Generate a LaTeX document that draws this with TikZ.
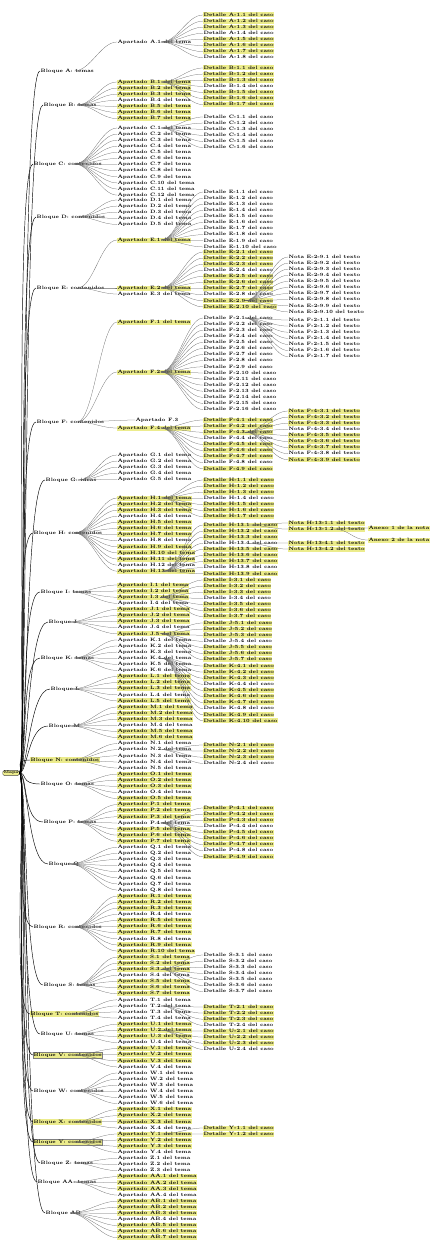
\documentclass[tikz,border=0pt]{standalone}
\usepackage{fontspec}
\usepackage{xcolor}
\definecolor{resalte}{RGB}{236,236,140}

\begin{document}
\begin{tikzpicture}[x=1pt, y=-1pt,
  raiz/.style={draw=black!70, fill=resalte, rounded corners=1.5pt, font=\fontsize{4}{4}\selectfont\bfseries, inner sep=0.8pt},
  bloque/.style={anchor=west, font=\fontsize{4.8}{5}\selectfont\bfseries, inner sep=0.5pt},
  bloquemarca/.style={bloque, fill=resalte},
  bloquecaja/.style={bloque, fill=resalte, draw=black!50, line width=0.2pt},
  nivel0/.style={anchor=west, font=\fontsize{4.8}{5}\selectfont\bfseries, inner sep=0.4pt, text height=3.3pt, text depth=0.9pt},
  nivel1/.style={nivel0, fill=resalte},
  conector/.style={draw=black!60, line width=0.25pt, to path={.. controls +(16,0) and +(-16,0) .. (\tikztotarget)}},
  tronco/.style={draw=black, line width=0.45pt, to path={.. controls +(8,0) and +(-20,0) .. (\tikztotarget)}}
]
\useasboundingbox (0,0) rectangle (439,1247);

% raiz
\node[raiz] (raiz) at (11,773) {Mapa};

% primer nivel
\node[bloque]      (ra)  at (40,71)   {Bloque A: temas};
\node[bloque]      (rb)  at (43,105)  {Bloque B: temas};
\node[bloque]      (rc)  at (33,164)  {Bloque C: contenidos};
\node[bloque]      (rd)  at (36,217)  {Bloque D: contenidos};
\node[bloque]      (re)  at (36,288)  {Bloque E: contenidos};
\node[bloque]      (rf)  at (36,422)  {Bloque F: contenidos};
\node[bloque]      (rg)  at (45,480)  {Bloque G: ideas};
\node[bloque]      (rh)  at (33,533)  {Bloque H: contenidos};
\node[bloque]      (ri)  at (40,592)  {Bloque I: temas};
\node[bloque]      (rj)  at (48,622)  {Bloque J};
\node[bloque]      (rk)  at (40,658)  {Bloque K: temas};
\node[bloque]      (rl)  at (50,689)  {Bloque L};
\node[bloque]      (rm)  at (48,726)  {Bloque M};
\node[bloquemarca] (rn)  at (30,760)  {Bloque N: contenidos};
\node[bloque]      (ro)  at (40,784)  {Bloque O: temas};
\node[bloque]      (rp)  at (43,822)  {Bloque P: temas};
\node[bloque]      (rq)  at (48,864)  {Bloque Q};
\node[bloque]      (rr)  at (33,927)  {Bloque R: contenidos};
\node[bloque]      (rs)  at (43,985)  {Bloque S: temas};
\node[bloquemarca] (rt)  at (30,1014) {Bloque T: contenidos};
\node[bloque]      (ru)  at (40,1034) {Bloque U: temas};
\node[bloquecaja]  (rv)  at (33,1055) {Bloque V: contenidos};
\node[bloque]      (rw)  at (33,1091) {Bloque W: contenidos};
\node[bloquemarca] (rx)  at (33,1122) {Bloque X: contenidos};
\node[bloquecaja]  (ry)  at (33,1142) {Bloque Y: contenidos};
\node[bloque]      (rz)  at (40,1163) {Bloque Z: temas};
\node[bloque]      (raa) at (37,1182) {Bloque AA: temas};
\node[bloque]      (rab) at (45,1213) {Bloque AB};

\foreach \r in {ra,rb,rc,rd,re,rf,rg,rh,ri,rj,rk,rl,rm,rn,ro,rp,rq,rr,rs,rt,ru,rv,rw,rx,ry,rz,raa,rab}
  \draw[tronco] (raiz.east) to (\r.west);

% segundo nivel
\foreach \grupo/\padre/\ini/\num/\tinta in {A/ra/42/1/0, B/rb/82/7/1, C/rc/128/12/0, D/rd/200/5/0,
    G/rg/455/5/0, H/rh/498/13/1, I/ri/585/4/1, J/rj/609.4/5/1, K/rk/639.9/6/0, L/rl/676.5/5/1,
    M/rm/707/6/1, N/rn/743.6/5/0, O/ro/774.1/5/1, P/rp/804.6/7/1, Q/rq/847.3/8/0, R/rr/896.1/10/1,
    S/rs/957.1/7/1, T/rt/999.8/4/0, U/ru/1024.2/4/1, V/rv/1048.6/4/1, W/rw/1073/6/0, X/rx/1109.6/4/1,
    Y/ry/1134/4/1, Z/rz/1158.4/3/0, AA/raa/1176.7/4/1, AB/rab/1201.1/7/1}{
  \foreach \i in {1,...,\num}{
    \pgfmathtruncatemacro\tono{\tinta*(mod(\i,4)>0)}
    \node[nivel\tono] (\grupo-\i) at (117,{\ini+6.1*(\i-1)}) {Apartado \grupo.\i\ del tema};
    \draw[conector] ([xshift=7pt]\padre.center) to (\grupo-\i.west);
  }
}
\node[nivel1] (E-1) at (117,240) {Apartado E.1 del tema};
\node[nivel1] (E-2) at (117,288) {Apartado E.2 del tema};
\node[nivel0] (E-3) at (117,294) {Apartado E.3 del tema};
\node[nivel1] (F-1) at (117,322) {Apartado F.1 del tema};
\node[nivel1] (F-2) at (117,372) {Apartado F.2 del tema};
\node[nivel0] (F-3) at (135,420) {Apartado F.3};
\node[nivel1] (F-4) at (117,428) {Apartado F.4 del tema};
\draw[conector] ([xshift=7pt]re.center) to (E-1.west);
\draw[conector] ([xshift=7pt]re.center) to (E-2.west);
\draw[conector] ([xshift=7pt]re.center) to (E-3.west);
\draw[conector] ([xshift=7pt]rf.center) to (F-1.west);
\draw[conector] ([xshift=7pt]rf.center) to (F-2.west);
\draw[conector] ([xshift=7pt]rf.center) to (F-3.west);
\draw[conector] ([xshift=7pt]rf.center) to (F-4.west);

% tercer nivel
\foreach \padre/\ini/\num/\tinta in {A-1/15/8/1, B-1/68/7/1, C-1/117/6/0, E-1/192/10/0, E-2/252/10/1,
    F-2/318/16/0, F-4/420/9/1, H-1/480/7/1, H-13/525/9/1, I-3/580/7/1, J-5/623/7/1, K-4/666/10/1,
    N-2/745/4/1, P-4/808/9/1, S-3/955/7/0, T-2/1007/4/1, U-2/1031/4/1, Y-1/1128/2/1}{
  \foreach \i in {1,...,\num}{
    \pgfmathtruncatemacro\tono{\tinta*(mod(\i,4)>0)}
    \node[nivel\tono] (\padre-\i) at (203,{\ini+6.1*(\i-1)}) {Detalle \padre.\i\ del caso};
    \draw[conector] ([xshift=7pt]\padre.center) to (\padre-\i.west);
  }
}

% cuarto nivel
\foreach \padre/\ini/\num/\tinta in {E-2-9/257/10/0, F-2-1/320/7/0, F-4-3/411/9/1, H-13-1/523/2/1, H-13-4/543/2/1}{
  \foreach \i in {1,...,\num}{
    \pgfmathtruncatemacro\tono{\tinta*(mod(\i,4)>0)}
    \node[nivel\tono] (\padre-\i) at (288,{\ini+6.1*(\i-1)}) {Nota \padre.\i\ del texto};
    \draw[conector] ([xshift=7pt]\padre.center) to (\padre-\i.west);
  }
}

% quinto nivel
\node[nivel1] (H-13-1-2-1) at (368,528) {Anexo 1 de la nota};
\node[nivel1] (H-13-1-2-2) at (368,540) {Anexo 2 de la nota};
\draw[conector] ([xshift=7pt]H-13-1-2.center) to (H-13-1-2-1.west);
\draw[conector] ([xshift=7pt]H-13-1-2.center) to (H-13-1-2-2.west);
\end{tikzpicture}
\end{document}
